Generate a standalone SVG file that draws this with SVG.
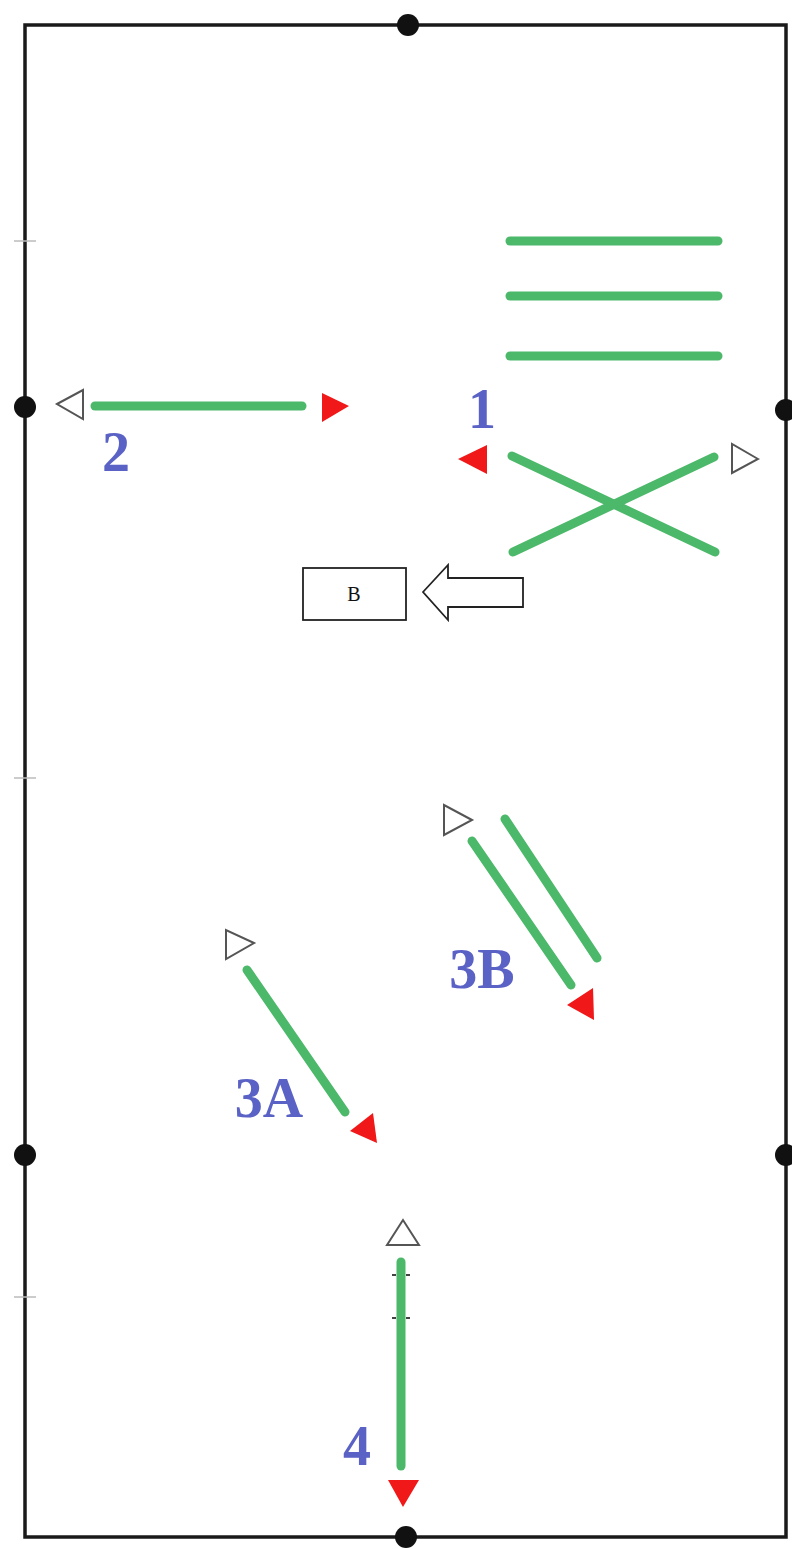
<svg xmlns="http://www.w3.org/2000/svg" width="792" height="1549" viewBox="0 0 792 1549">
<style>
.frame{fill:none;stroke:#1a1a1a;stroke-width:3.5}
.tick{stroke:#bbb;stroke-width:1.5}
.dot{fill:#111}
.g{stroke:#4cb86a;stroke-width:9;stroke-linecap:round;fill:none}
.open{fill:#fff;stroke:#555;stroke-width:2;stroke-linejoin:miter}
.red{fill:#f01818}
.lbl{font-family:"Liberation Serif","Times New Roman",serif;font-weight:bold;font-size:56px;fill:#5a62c5;text-anchor:middle}
.box{fill:#fff;stroke:#222;stroke-width:1.8}
.bt{font-family:"Liberation Serif","Times New Roman",serif;font-size:20px;fill:#111;text-anchor:middle}
</style>
<rect width="792" height="1549" fill="#fff"/>
<g id="field">
<rect class="frame" x="25" y="25" width="761" height="1512"/>
<line class="tick" x1="14" y1="241" x2="36" y2="241"/>
<line class="tick" x1="14" y1="778" x2="36" y2="778"/>
<line class="tick" x1="14" y1="1297" x2="36" y2="1297"/>
<circle class="dot" cx="408" cy="25" r="11"/>
<circle class="dot" cx="406" cy="1537" r="11"/>
<circle class="dot" cx="25" cy="407" r="11"/>
<circle class="dot" cx="25" cy="1155" r="11"/>
<circle class="dot" cx="786" cy="410" r="11"/>
<circle class="dot" cx="786" cy="1155" r="11"/>
</g>
<g id="drill1">
<line class="g" x1="510" y1="241" x2="718" y2="241"/>
<line class="g" x1="510" y1="296" x2="718" y2="296"/>
<line class="g" x1="510" y1="356" x2="718" y2="356"/>
<line class="g" x1="512" y1="456" x2="715" y2="552"/>
<line class="g" x1="513" y1="552" x2="714" y2="457"/>
<polygon class="red" points="458,459 487,445 487,474"/>
<polygon class="open" points="758,459 732,444 732,473"/>
<text class="lbl" x="482" y="428">1</text>
</g>
<g id="drill2">
<line class="g" x1="95" y1="406" x2="302" y2="406"/>
<polygon class="open" points="57,404 83,390 83,419"/>
<polygon class="red" points="349,406 322,393 322,422"/>
<text class="lbl" x="116" y="471">2</text>
</g>
<g id="boxB">
<rect class="box" x="303" y="568" width="103" height="52"/>
<text class="bt" x="354" y="601">B</text>
<polygon class="box" points="423,592 448,565 448,578 523,578 523,607 448,607 448,620"/>
</g>
<g id="drill3B">
<line class="g" x1="472" y1="841" x2="571" y2="985"/>
<line class="g" x1="505" y1="819" x2="597" y2="958"/>
<polygon class="open" points="472,820 444,805 444,835"/>
<polygon class="red" points="594,1020 567,1005 593,988"/>
<text class="lbl" x="482" y="988">3B</text>
</g>
<g id="drill3A">
<line class="g" x1="247" y1="970" x2="345" y2="1112"/>
<polygon class="open" points="254,943 226,930 226,959"/>
<polygon class="red" points="377,1143 350,1131 373,1113"/>
<text class="lbl" x="269" y="1117">3A</text>
</g>
<g id="drill4">
<line class="g" x1="401" y1="1262" x2="401" y2="1466"/>
<line stroke="#444" stroke-width="2" x1="392" y1="1275" x2="396" y2="1275"/>
<line stroke="#444" stroke-width="2" x1="406" y1="1275" x2="410" y2="1275"/>
<line stroke="#444" stroke-width="2" x1="392" y1="1318" x2="396" y2="1318"/>
<line stroke="#444" stroke-width="2" x1="406" y1="1318" x2="410" y2="1318"/>
<polygon class="open" points="403,1220 387,1245 419,1245"/>
<polygon class="red" points="403,1507 388,1480 419,1480"/>
<text class="lbl" x="357" y="1465">4</text>
</g>
</svg>
